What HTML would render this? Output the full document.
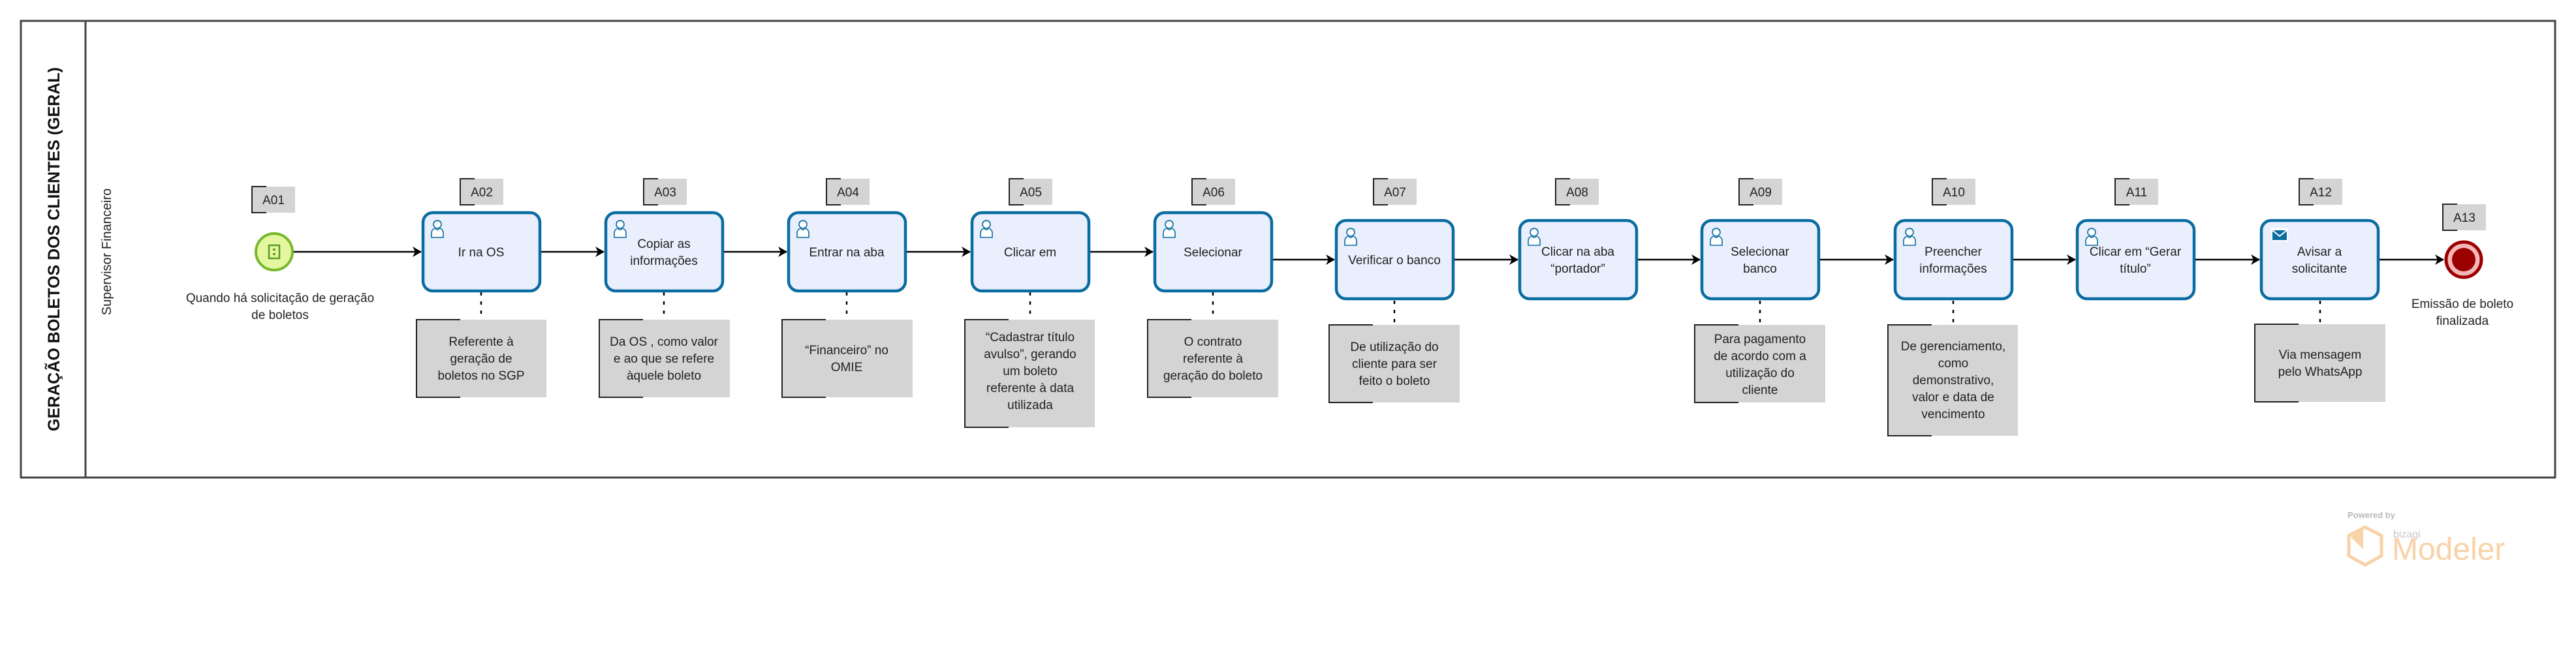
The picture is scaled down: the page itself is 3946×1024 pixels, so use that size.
<!DOCTYPE html>
<html><head><meta charset="utf-8"><style>
html,body{margin:0;padding:0;background:#fff;width:3946px;height:1024px;overflow:hidden}
svg{display:block}
text{font-family:"Liberation Sans",sans-serif}
.t{font-size:19px;fill:#222;text-anchor:middle}
.tg{font-size:19px;fill:#222;text-anchor:middle}
.task{fill:#eaeffe;stroke:#0a6ca0;stroke-width:4.5}
.tag{fill:#d4d4d4}
.br{fill:none;stroke:#222;stroke-width:2}
.ln{stroke:#000;stroke-width:2.5;fill:none}
.dot{stroke:#000;stroke-width:2.5;stroke-dasharray:5,9}
</style></head><body>
<svg width="3946" height="1024" viewBox="0 0 3946 1024" xmlns="http://www.w3.org/2000/svg">
<defs>
<marker id="ar" markerWidth="14" markerHeight="16" refX="13" refY="8" orient="auto" markerUnits="userSpaceOnUse">
<path d="M0,0 L14,8 L0,16 L4,8 Z" fill="#000"/>
</marker>
<g id="user">
<circle cx="10" cy="8" r="6" fill="#fff" stroke="#0a6ca0" stroke-width="1.6"/>
<path d="M4,6 Q10,0 16,6 L16,4 Q10,-1 4,4 Z" fill="#0a6ca0"/>
<path d="M1,28 L1,20 Q2,15 7,14 L13,14 Q18,15 19,20 L19,28 Z" fill="#fff" stroke="#0a6ca0" stroke-width="1.6"/>
<path d="M7,14 Q10,19 13,14" fill="none" stroke="#0a6ca0" stroke-width="1.4"/>
</g>
</defs>

<rect x="32" y="32" width="3882" height="700" fill="none" stroke="#444" stroke-width="3"/>
<line x1="131" y1="32" x2="131" y2="732" stroke="#444" stroke-width="3"/>
<text transform="translate(91,382) rotate(-90)" text-anchor="middle" style="font-size:25px;font-weight:bold;fill:#111">GERAÇÃO BOLETOS DOS CLIENTES (GERAL)</text>
<text transform="translate(170,386) rotate(-90)" text-anchor="middle" style="font-size:20px;fill:#222">Supervisor Financeiro</text>

<line class="ln" x1="449" y1="386" x2="645" y2="386" marker-end="url(#ar)"/>
<line class="ln" x1="827" y1="386" x2="925" y2="386" marker-end="url(#ar)"/>
<line class="ln" x1="1107" y1="386" x2="1205" y2="386" marker-end="url(#ar)"/>
<line class="ln" x1="1387" y1="386" x2="1486" y2="386" marker-end="url(#ar)"/>
<line class="ln" x1="1668" y1="386" x2="1766" y2="386" marker-end="url(#ar)"/>
<line class="ln" x1="1948" y1="398" x2="2044" y2="398" marker-end="url(#ar)"/>
<line class="ln" x1="2226" y1="398" x2="2325" y2="398" marker-end="url(#ar)"/>
<line class="ln" x1="2507" y1="398" x2="2604" y2="398" marker-end="url(#ar)"/>
<line class="ln" x1="2786" y1="398" x2="2900" y2="398" marker-end="url(#ar)"/>
<line class="ln" x1="3082" y1="398" x2="3179" y2="398" marker-end="url(#ar)"/>
<line class="ln" x1="3361" y1="398" x2="3461" y2="398" marker-end="url(#ar)"/>
<line class="ln" x1="3643" y1="398" x2="3743" y2="398" marker-end="url(#ar)"/>

<line class="dot" x1="737" y1="448" x2="737" y2="490"/>
<line class="dot" x1="1017" y1="448" x2="1017" y2="490"/>
<line class="dot" x1="1297" y1="448" x2="1297" y2="490"/>
<line class="dot" x1="1578" y1="448" x2="1578" y2="490"/>
<line class="dot" x1="1858" y1="448" x2="1858" y2="490"/>
<line class="dot" x1="2136" y1="461" x2="2136" y2="498"/>
<line class="dot" x1="2696" y1="461" x2="2696" y2="498"/>
<line class="dot" x1="2992" y1="461" x2="2992" y2="498"/>
<line class="dot" x1="3554" y1="461" x2="3554" y2="497"/>

<circle cx="420" cy="386" r="28" fill="#e4f7a0" stroke="#77b82a" stroke-width="4"/>
<rect x="412" y="376" width="16" height="20" fill="none" stroke="#5d9a1e" stroke-width="2.5"/>
<rect x="418" y="381" width="4" height="3" fill="#5d9a1e"/><rect x="418" y="388" width="4" height="3" fill="#5d9a1e"/>
<text class="t" x="429" y="463">Quando há solicitação de geração</text>
<text class="t" x="429" y="489">de boletos</text>

<circle cx="3774" cy="398" r="27" fill="#f5b8b8" stroke="#9b0000" stroke-width="5"/>
<circle cx="3774" cy="398" r="18" fill="#9b0000"/>
<text class="t" x="3772" y="472">Emissão de boleto</text>
<text class="t" x="3772" y="498">finalizada</text>

<g>
<rect class="tag" x="386" y="286" width="66" height="40"/><path class="br" d="M408,286 H386 V326 H408"/><text class="tg" x="419" y="313">A01</text>
<rect class="tag" x="705" y="274" width="66" height="40"/><path class="br" d="M727,274 H705 V314 H727"/><text class="tg" x="738" y="301">A02</text>
<rect class="tag" x="986" y="274" width="66" height="40"/><path class="br" d="M1008,274 H986 V314 H1008"/><text class="tg" x="1019" y="301">A03</text>
<rect class="tag" x="1266" y="274" width="66" height="40"/><path class="br" d="M1288,274 H1266 V314 H1288"/><text class="tg" x="1299" y="301">A04</text>
<rect class="tag" x="1546" y="274" width="66" height="40"/><path class="br" d="M1568,274 H1546 V314 H1568"/><text class="tg" x="1579" y="301">A05</text>
<rect class="tag" x="1826" y="274" width="66" height="40"/><path class="br" d="M1848,274 H1826 V314 H1848"/><text class="tg" x="1859" y="301">A06</text>
<rect class="tag" x="2104" y="274" width="66" height="40"/><path class="br" d="M2126,274 H2104 V314 H2126"/><text class="tg" x="2137" y="301">A07</text>
<rect class="tag" x="2383" y="274" width="66" height="40"/><path class="br" d="M2405,274 H2383 V314 H2405"/><text class="tg" x="2416" y="301">A08</text>
<rect class="tag" x="2664" y="274" width="66" height="40"/><path class="br" d="M2686,274 H2664 V314 H2686"/><text class="tg" x="2697" y="301">A09</text>
<rect class="tag" x="2960" y="274" width="66" height="40"/><path class="br" d="M2982,274 H2960 V314 H2982"/><text class="tg" x="2993" y="301">A10</text>
<rect class="tag" x="3240" y="274" width="66" height="40"/><path class="br" d="M3262,274 H3240 V314 H3262"/><text class="tg" x="3273" y="301">A11</text>
<rect class="tag" x="3522" y="274" width="66" height="40"/><path class="br" d="M3544,274 H3522 V314 H3544"/><text class="tg" x="3555" y="301">A12</text>
<rect class="tag" x="3742" y="313" width="66" height="40"/><path class="br" d="M3764,313 H3742 V353 H3764"/><text class="tg" x="3775" y="340">A13</text>
</g>

<rect class="task" x="648" y="326" width="179" height="120" rx="15"/><use href="#user" x="660" y="336"/>
<text class="t" x="737" y="393">Ir na OS</text>
<rect class="task" x="928" y="326" width="179" height="120" rx="15"/><use href="#user" x="940" y="336"/>
<text class="t" x="1017" y="380">Copiar as</text><text class="t" x="1017" y="406">informações</text>
<rect class="task" x="1208" y="326" width="179" height="120" rx="15"/><use href="#user" x="1220" y="336"/>
<text class="t" x="1297" y="393">Entrar na aba</text>
<rect class="task" x="1489" y="326" width="179" height="120" rx="15"/><use href="#user" x="1501" y="336"/>
<text class="t" x="1578" y="393">Clicar em</text>
<rect class="task" x="1769" y="326" width="179" height="120" rx="15"/><use href="#user" x="1781" y="336"/>
<text class="t" x="1858" y="393">Selecionar</text>

<rect class="task" x="2047" y="338" width="179" height="120" rx="15"/><use href="#user" x="2059" y="348"/>
<text class="t" x="2136" y="405">Verificar o banco</text>
<rect class="task" x="2328" y="338" width="179" height="120" rx="15"/><use href="#user" x="2340" y="348"/>
<text class="t" x="2417" y="392">Clicar na aba</text><text class="t" x="2417" y="418">“portador”</text>
<rect class="task" x="2607" y="338" width="179" height="120" rx="15"/><use href="#user" x="2619" y="348"/>
<text class="t" x="2696" y="392">Selecionar</text><text class="t" x="2696" y="418">banco</text>
<rect class="task" x="2903" y="338" width="179" height="120" rx="15"/><use href="#user" x="2915" y="348"/>
<text class="t" x="2992" y="392">Preencher</text><text class="t" x="2992" y="418">informações</text>
<rect class="task" x="3182" y="338" width="179" height="120" rx="15"/><use href="#user" x="3194" y="348"/>
<text class="t" x="3271" y="392">Clicar em “Gerar</text><text class="t" x="3271" y="418">título”</text>
<rect class="task" x="3464" y="338" width="179" height="120" rx="15"/>
<rect x="3479" y="350" width="26" height="20" fill="#fff"/>
<rect x="3481" y="353" width="22" height="15" fill="#0a6ca0"/>
<path d="M3481,353 L3492,362 L3503,353" fill="none" stroke="#fff" stroke-width="2"/>
<text class="t" x="3553" y="392">Avisar a</text><text class="t" x="3553" y="418">solicitante</text>

<g>
<rect class="tag" x="638" y="490" width="199" height="119"/><path class="br" d="M705,490 H638 V609 H705"/>
<text class="t" x="737" y="530">Referente à</text><text class="t" x="737" y="556">geração de</text><text class="t" x="737" y="582">boletos no SGP</text>

<rect class="tag" x="918" y="490" width="200" height="119"/><path class="br" d="M985,490 H918 V609 H985"/>
<text class="t" x="1017" y="530">Da OS , como valor</text><text class="t" x="1017" y="556">e ao que se refere</text><text class="t" x="1017" y="582">àquele boleto</text>

<rect class="tag" x="1198" y="490" width="200" height="119"/><path class="br" d="M1265,490 H1198 V609 H1265"/>
<text class="t" x="1297" y="543">“Financeiro” no</text><text class="t" x="1297" y="569">OMIE</text>

<rect class="tag" x="1478" y="490" width="199" height="165"/><path class="br" d="M1545,490 H1478 V655 H1545"/>
<text class="t" x="1578" y="523">“Cadastrar título</text><text class="t" x="1578" y="549">avulso”, gerando</text><text class="t" x="1578" y="575">um boleto</text><text class="t" x="1578" y="601">referente à data</text><text class="t" x="1578" y="627">utilizada</text>

<rect class="tag" x="1758" y="490" width="200" height="119"/><path class="br" d="M1825,490 H1758 V609 H1825"/>
<text class="t" x="1858" y="530">O contrato</text><text class="t" x="1858" y="556">referente  à</text><text class="t" x="1858" y="582">geração do boleto</text>

<rect class="tag" x="2036" y="498" width="200" height="119"/><path class="br" d="M2103,498 H2036 V617 H2103"/>
<text class="t" x="2136" y="538">De utilização do</text><text class="t" x="2136" y="564">cliente para ser</text><text class="t" x="2136" y="590">feito o boleto</text>

<rect class="tag" x="2596" y="498" width="200" height="119"/><path class="br" d="M2663,498 H2596 V617 H2663"/>
<text class="t" x="2696" y="526">Para pagamento</text><text class="t" x="2696" y="552">de acordo com a</text><text class="t" x="2696" y="578">utilização do</text><text class="t" x="2696" y="604">cliente</text>

<rect class="tag" x="2892" y="498" width="199" height="170"/><path class="br" d="M2959,498 H2892 V668 H2959"/>
<text class="t" x="2992" y="537">De gerenciamento,</text><text class="t" x="2992" y="563">como</text><text class="t" x="2992" y="589">demonstrativo,</text><text class="t" x="2992" y="615">valor e data de</text><text class="t" x="2992" y="641">vencimento</text>

<rect class="tag" x="3454" y="497" width="200" height="119"/><path class="br" d="M3521,497 H3454 V616 H3521"/>
<text class="t" x="3554" y="550">Via mensagem</text><text class="t" x="3554" y="576">pelo WhatsApp</text>
</g>

<text x="3596" y="794" style="font-size:13px;fill:#b8b8b8;font-weight:bold">Powered by</text>
<path d="M3623,808 L3648,821 L3648,852 L3623,866 L3598,852 L3598,821 Z" fill="none" stroke="#f8d2a8" stroke-width="5"/>
<path d="M3601,823 L3620,812 L3620,842 Z" fill="#f8d2a8"/>
<text x="3666" y="824" style="font-size:16px;fill:#c8c8c8">bizagi</text>
<text x="3664" y="858" style="font-size:48px;fill:#f8d2a8">Modeler</text>
</svg>
</body></html>
